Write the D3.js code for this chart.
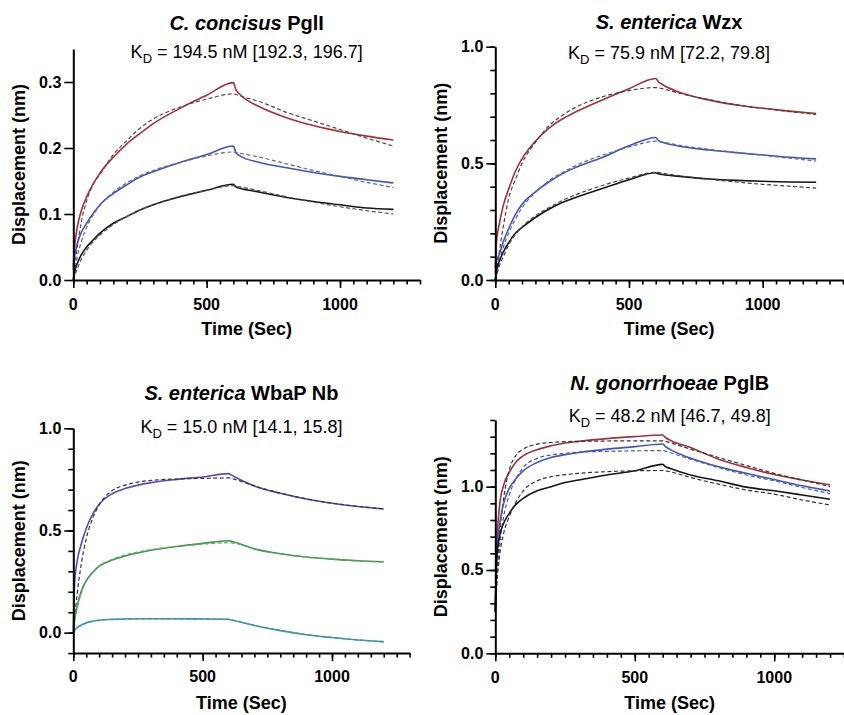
<!DOCTYPE html>
<html>
<head>
<meta charset="utf-8">
<script src="https://cdn.jsdelivr.net/npm/d3@7"></script>
<style>
  body { margin: 0; background: #fff; }
  svg { display: block; font-family: "Liberation Sans", Arial, Helvetica, sans-serif; }
</style>
</head>
<body>
<script>
// sample times (s), shared by every trace
const timeSec = [0, 5, 15, 30, 50, 75, 100, 150, 200, 250, 300, 400, 500, 600, 610, 625, 700, 800, 900, 1000, 1100, 1200];

// C. concisus PglI
const pglIRed     = [0.02, 0.05, 0.08, 0.105, 0.126, 0.146, 0.162, 0.186, 0.206, 0.222, 0.237, 0.26, 0.28, 0.299, 0.288, 0.281, 0.262, 0.246, 0.234, 0.225, 0.218, 0.212];
const pglIRedFit  = [0, 0.018, 0.05, 0.088, 0.12, 0.145, 0.16, 0.19, 0.211, 0.23, 0.244, 0.262, 0.274, 0.282, 0.281, 0.279, 0.270, 0.254, 0.241, 0.228, 0.215, 0.203];
const pglIBlue    = [0.015, 0.035, 0.055, 0.072, 0.086, 0.101, 0.114, 0.131, 0.144, 0.156, 0.164, 0.178, 0.19, 0.203, 0.193, 0.188, 0.178, 0.17, 0.163, 0.157, 0.152, 0.147];
const pglIBlueFit = [0, 0.012, 0.035, 0.058, 0.08, 0.099, 0.113, 0.133, 0.147, 0.158, 0.166, 0.178, 0.188, 0.194, 0.193, 0.192, 0.186, 0.176, 0.166, 0.157, 0.148, 0.140];
const pglIBlack   = [0, 0.012, 0.025, 0.038, 0.05, 0.061, 0.071, 0.086, 0.096, 0.106, 0.114, 0.126, 0.136, 0.145, 0.141, 0.139, 0.133, 0.125, 0.119, 0.114, 0.109, 0.107];
const pglIBlackFit= [0, 0.006, 0.017, 0.031, 0.045, 0.058, 0.068, 0.084, 0.096, 0.106, 0.114, 0.127, 0.136, 0.143, 0.142, 0.141, 0.135, 0.126, 0.118, 0.111, 0.105, 0.100];

// S. enterica Wzx
const wzxRed      = [0.05, 0.17, 0.24, 0.32, 0.39, 0.465, 0.52, 0.595, 0.65, 0.69, 0.72, 0.772, 0.82, 0.864, 0.85, 0.838, 0.80, 0.771, 0.75, 0.736, 0.724, 0.714];
const wzxRedFit   = [0, 0.04, 0.12, 0.23, 0.35, 0.43, 0.50, 0.59, 0.66, 0.705, 0.74, 0.785, 0.812, 0.825, 0.824, 0.82, 0.797, 0.773, 0.752, 0.736, 0.722, 0.710];
const wzxBlue     = [0.03, 0.08, 0.11, 0.165, 0.22, 0.28, 0.325, 0.378, 0.42, 0.455, 0.482, 0.525, 0.575, 0.611, 0.597, 0.59, 0.571, 0.557, 0.546, 0.536, 0.526, 0.519];
const wzxBlueFit  = [0, 0.03, 0.08, 0.14, 0.2, 0.26, 0.31, 0.375, 0.425, 0.46, 0.49, 0.535, 0.57, 0.595, 0.594, 0.591, 0.575, 0.56, 0.547, 0.535, 0.522, 0.51];
const wzxBlack    = [0, 0.04, 0.08, 0.12, 0.16, 0.2, 0.225, 0.268, 0.303, 0.332, 0.354, 0.392, 0.43, 0.46, 0.455, 0.452, 0.443, 0.433, 0.427, 0.423, 0.42, 0.419];
const wzxBlackFit = [0, 0.02, 0.06, 0.1, 0.15, 0.195, 0.228, 0.275, 0.31, 0.34, 0.365, 0.405, 0.437, 0.462, 0.461, 0.458, 0.445, 0.432, 0.42, 0.41, 0.402, 0.394];

// S. enterica WbaP Nb
const wbaPurple    = [0.01, 0.24, 0.35, 0.43, 0.51, 0.58, 0.628, 0.68, 0.705, 0.722, 0.734, 0.75, 0.762, 0.778, 0.772, 0.762, 0.718, 0.682, 0.654, 0.633, 0.617, 0.605];
const wbaPurpleFit = [0, 0.07, 0.19, 0.33, 0.46, 0.56, 0.625, 0.695, 0.722, 0.737, 0.745, 0.752, 0.755, 0.757, 0.755, 0.75, 0.718, 0.683, 0.655, 0.634, 0.618, 0.606];
const wbaGreen     = [0, 0.06, 0.13, 0.2, 0.255, 0.295, 0.325, 0.355, 0.375, 0.39, 0.403, 0.422, 0.437, 0.45, 0.447, 0.442, 0.41, 0.386, 0.37, 0.36, 0.352, 0.347];
const wbaGreenFit  = [0, 0.05, 0.12, 0.19, 0.25, 0.293, 0.325, 0.358, 0.38, 0.395, 0.406, 0.422, 0.433, 0.44, 0.439, 0.437, 0.41, 0.386, 0.37, 0.359, 0.351, 0.346];
const wbaTeal      = [0, 0.012, 0.025, 0.036, 0.048, 0.056, 0.061, 0.065, 0.067, 0.068, 0.068, 0.068, 0.067, 0.066, 0.062, 0.058, 0.035, 0.01, -0.01, -0.024, -0.036, -0.044];
const wbaTealFit   = [0, 0.01, 0.023, 0.035, 0.047, 0.056, 0.061, 0.065, 0.067, 0.067, 0.067, 0.067, 0.066, 0.065, 0.063, 0.059, 0.036, 0.011, -0.009, -0.024, -0.036, -0.045];

// N. gonorrhoeae PglB
const pglBRed      = [0.25, 0.64, 0.88, 1.01, 1.085, 1.15, 1.185, 1.222, 1.245, 1.262, 1.272, 1.288, 1.3, 1.31, 1.295, 1.28, 1.235, 1.165, 1.115, 1.073, 1.04, 1.01];
const pglBRedFit   = [0.25, 0.45, 0.7, 0.93, 1.1, 1.19, 1.225, 1.255, 1.265, 1.27, 1.272, 1.274, 1.275, 1.275, 1.272, 1.265, 1.225, 1.175, 1.127, 1.08, 1.04, 1.0];
const pglBBlue     = [0.25, 0.6, 0.77, 0.9, 0.99, 1.05, 1.095, 1.145, 1.175, 1.192, 1.205, 1.225, 1.24, 1.256, 1.24, 1.225, 1.17, 1.12, 1.08, 1.043, 1.005, 0.974];
const pglBBlueFit  = [0.25, 0.42, 0.63, 0.82, 0.95, 1.05, 1.115, 1.17, 1.19, 1.2, 1.207, 1.212, 1.215, 1.216, 1.213, 1.205, 1.165, 1.115, 1.07, 1.035, 0.995, 0.958];
const pglBBlack    = [0.25, 0.56, 0.7, 0.78, 0.84, 0.895, 0.93, 0.975, 1.0, 1.025, 1.04, 1.07, 1.095, 1.134, 1.12, 1.11, 1.07, 1.035, 0.997, 0.975, 0.95, 0.924];
const pglBBlackFit = [0.25, 0.4, 0.58, 0.72, 0.82, 0.91, 0.975, 1.035, 1.06, 1.072, 1.08, 1.09, 1.095, 1.097, 1.095, 1.09, 1.055, 1.015, 0.98, 0.955, 0.92, 0.89];

const panels = [
  { genus: "C. concisus", protein: " PglI", kd: " = 194.5 nM [192.3, 196.7]",
    x: [73.3, 420], y: [280, 49], xDom: [0, 1300], yDom: [0, 0.35],
    yMajor: [0, 0.1, 0.2, 0.3], yMinor: [], yFmt: ".1f",
    titleY: 29.5, kdY: 57.5, xLabY: 309.5, xTitleY: 335, yTitleX: 18,
    traces: [
      [pglIRed, "#a3303c", false], [pglIRedFit, "#5a4a4a", true],
      [pglIBlue, "#4656b0", false], [pglIBlueFit, "#5c6698", true],
      [pglIBlack, "#151515", false], [pglIBlackFit, "#555", true]
    ] },
  { genus: "S. enterica", protein: " Wzx", kd: " = 75.9 nM [72.2, 79.8]",
    x: [495.3, 842.9], y: [280, 46.7], xDom: [0, 1300], yDom: [0, 1],
    yMajor: [0, 0.5, 1], yMinor: d3.range(0, 1.01, 0.1), yFmt: ".1f",
    titleY: 28.5, kdY: 59, xLabY: 309.5, xTitleY: 335, yTitleX: 440,
    traces: [
      [wzxRed, "#a3303c", false], [wzxRedFit, "#4a4040", true],
      [wzxBlue, "#4656b0", false], [wzxBlueFit, "#5c6698", true],
      [wzxBlack, "#151515", false], [wzxBlackFit, "#444", true]
    ] },
  { genus: "S. enterica", protein: " WbaP Nb", kd: " = 15.0 nM [14.1, 15.8]",
    x: [73.3, 409.6], y: [653.1, 428.3], xDom: [0, 1300], yDom: [-0.1, 1],
    yMajor: [0, 0.5, 1], yMinor: d3.range(-0.1, 1.01, 0.1), yFmt: ".1f",
    titleY: 400, kdY: 432.5, xLabY: 682, xTitleY: 709, yTitleX: 18,
    traces: [
      [wbaPurple, "#6048b0", false], [wbaPurpleFit, "#333", true],
      [wbaGreen, "#3c9a48", false], [wbaGreenFit, "#6a9a70", true],
      [wbaTeal, "#2a9fb0", false], [wbaTealFit, "#5a8a8a", true]
    ] },
  { genus: "N. gonorrhoeae", protein: " PglB", kd: " = 48.2 nM [46.7, 49.8]",
    x: [495.3, 844], y: [653.3, 420], xDom: [0, 1250], yDom: [0, 1.4],
    yMajor: [0, 0.5, 1], yMinor: d3.range(0, 1.41, 0.1), yFmt: ".1f",
    titleY: 390, kdY: 422, xLabY: 683, xTitleY: 709, yTitleX: 440,
    traces: [
      [pglBRed, "#a3303c", false], [pglBRedFit, "#333", true],
      [pglBBlue, "#4656b0", false], [pglBBlueFit, "#4a58a8", true],
      [pglBBlack, "#151515", false], [pglBBlackFit, "#333", true]
    ] }
];

const svg = d3.select("body").append("svg")
  .attr("width", 844)
  .attr("height", 715);

panels.forEach(function(p) {
  const x = d3.scaleLinear().domain(p.xDom).range(p.x);
  const y = d3.scaleLinear().domain(p.yDom).range(p.y);
  const g = svg.append("g");
  const cx = (p.x[0] + p.x[1]) / 2;

  // traces: measured solid, fits dashed on top
  const line = d3.line()
    .x(function(d, i) { return x(timeSec[i]); })
    .y(function(d) { return y(d); })
    .curve(d3.curveMonotoneX);

  p.traces.forEach(function(t) {
    g.append("path")
      .datum(t[0])
      .attr("d", line)
      .attr("fill", "none")
      .attr("stroke", t[1])
      .attr("stroke-width", t[2] ? 1.2 : 1.6)
      .attr("stroke-dasharray", t[2] ? "4,2.5" : null);
  });

  // x axis
  const xMinor = d3.range(0, p.xDom[1] + 1, 50);
  g.append("g")
    .attr("transform", "translate(0," + p.y[0] + ")")
    .call(d3.axisBottom(x).tickValues(xMinor).tickSize(4.5).tickFormat(""))
    .call(function(a) { a.select(".domain").remove(); });
  g.append("g")
    .attr("transform", "translate(0," + p.y[0] + ")")
    .call(d3.axisBottom(x).tickValues([0, 500, 1000]).tickSize(8).tickSizeOuter(0).tickFormat(d3.format("d")))
    .call(function(a) { a.selectAll("text").remove(); });

  g.selectAll(".xlab").data([0, 500, 1000]).enter().append("text")
    .attr("x", function(d) { return x(d); })
    .attr("y", p.xLabY)
    .attr("text-anchor", "middle")
    .attr("font-size", 16)
    .attr("font-weight", "bold")
    .text(function(d) { return d; });

  // y axis
  if (p.yMinor.length) {
    g.append("g")
      .attr("transform", "translate(" + p.x[0] + ",0)")
      .call(d3.axisLeft(y).tickValues(p.yMinor).tickSize(5).tickFormat(""))
      .call(function(a) { a.select(".domain").remove(); });
  }
  g.append("g")
    .attr("transform", "translate(" + p.x[0] + ",0)")
    .call(d3.axisLeft(y).tickValues(p.yMajor).tickSize(9).tickSizeOuter(0))
    .call(function(a) { a.selectAll("text").remove(); });

  g.selectAll(".ylab").data(p.yMajor).enter().append("text")
    .attr("x", p.x[0] - 12)
    .attr("y", function(d) { return y(d) + 5.5; })
    .attr("text-anchor", "end")
    .attr("font-size", 16)
    .attr("font-weight", "bold")
    .text(function(d) { return d3.format(p.yFmt)(d); });

  g.selectAll(".domain").attr("stroke", "#000").attr("stroke-width", 2);
  g.selectAll(".tick line").attr("stroke", "#000").attr("stroke-width", 1.6);

  // title
  const title = g.append("text")
    .attr("x", cx)
    .attr("y", p.titleY)
    .attr("text-anchor", "middle")
    .attr("font-size", 20)
    .attr("font-weight", "bold");
  title.append("tspan").attr("font-style", "italic").text(p.genus);
  title.append("tspan").text(p.protein);

  const kd = g.append("text")
    .attr("x", cx)
    .attr("y", p.kdY)
    .attr("text-anchor", "middle")
    .attr("font-size", 18);
  kd.append("tspan").text("K");
  kd.append("tspan").attr("font-size", 13).attr("dy", 5).text("D");
  kd.append("tspan").attr("dy", -5).text(p.kd);

  // axis titles
  g.append("text")
    .attr("x", cx)
    .attr("y", p.xTitleY)
    .attr("text-anchor", "middle")
    .attr("font-size", 18)
    .attr("font-weight", "bold")
    .text("Time (Sec)");

  g.append("text")
    .attr("transform", "translate(" + (p.yTitleX + 6.5) + "," + ((p.y[0] + p.y[1]) / 2) + ") rotate(-90)")
    .attr("text-anchor", "middle")
    .attr("font-size", 18)
    .attr("font-weight", "bold")
    .text("Displacement (nm)");
});
</script>
</body>
</html>
